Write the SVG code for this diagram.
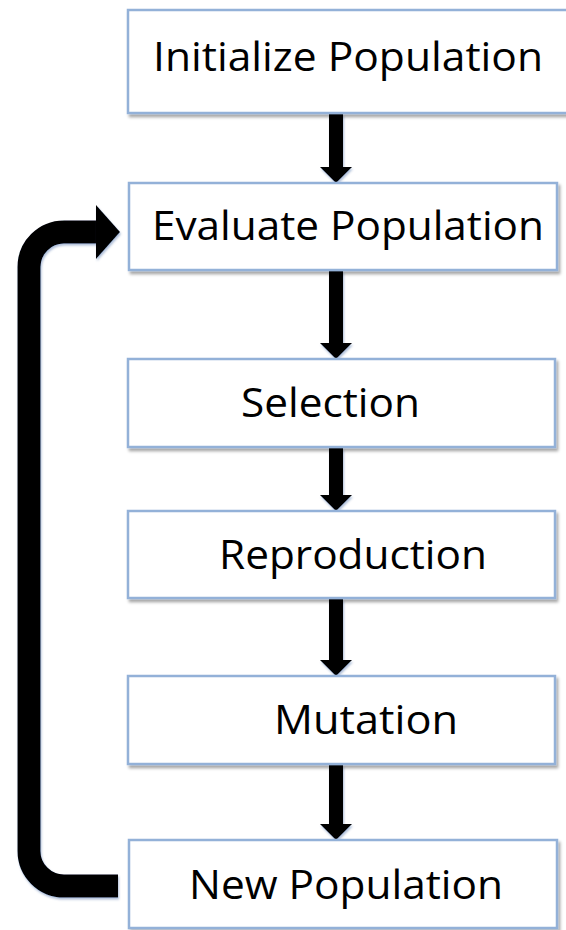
<svg xmlns="http://www.w3.org/2000/svg" width="566" height="930" viewBox="0 0 566 930">
<defs>
<filter id="sh" x="-10%" y="-10%" width="130%" height="140%">
<feDropShadow dx="2" dy="3" stdDeviation="1.6" flood-color="#000" flood-opacity="0.35"/>
</filter>
<filter id="ash" x="-20%" y="-10%" width="140%" height="130%">
<feDropShadow dx="1" dy="2" stdDeviation="1.2" flood-color="#4a70a8" flood-opacity="0.45"/>
</filter>
</defs>
<style>
.box{fill:#ffffff;stroke:#93b1d8;stroke-width:2.5;filter:url(#sh)}
.lbl{font-family:"Open Sans","Liberation Sans",sans-serif;font-size:40px;fill:#000}
.arr{fill:#000;filter:url(#ash)}
.loop{fill:none;stroke:#000;stroke-width:23;filter:url(#ash)}
</style>
<rect width="566" height="930" fill="#ffffff"/>
<g id="connectors">
<path class="arr" d="M329,114 H343 V167 H352 L336,183 L320,167 H329 Z"/>
<path class="arr" d="M329,271 H343 V343 H352 L336,359 L320,343 H329 Z"/>
<path class="arr" d="M329,448 H343 V495 H352 L336,511 L320,495 H329 Z"/>
<path class="arr" d="M329,599 H343 V660 H352 L336,676 L320,660 H329 Z"/>
<path class="arr" d="M329,765 H343 V824 H352 L336,840 L320,824 H329 Z"/>
<g id="loop-arrow">
<path class="loop" d="M118,886 H64 A35,35 0 0 1 29,851 V267 A35,35 0 0 1 64,232 H100"/>
<path class="arr" d="M96,205 L120,232 L96,259 Z"/>
</g>
</g>
<g id="n-init">
<rect class="box" x="128" y="10" width="445" height="103"/>
<text class="lbl" x="153" y="71" textLength="390" lengthAdjust="spacingAndGlyphs">Initialize Population</text>
</g>
<g id="n-eval">
<rect class="box" x="129" y="183" width="428" height="87"/>
<text class="lbl" x="152" y="240" textLength="392" lengthAdjust="spacingAndGlyphs">Evaluate Population</text>
</g>
<g id="n-sel">
<rect class="box" x="128" y="359" width="427" height="88"/>
<text class="lbl" x="241" y="417" textLength="179" lengthAdjust="spacingAndGlyphs">Selection</text>
</g>
<g id="n-rep">
<rect class="box" x="128" y="511" width="427" height="87"/>
<text class="lbl" x="219" y="569" textLength="268" lengthAdjust="spacingAndGlyphs">Reproduction</text>
</g>
<g id="n-mut">
<rect class="box" x="128" y="676" width="427" height="88"/>
<text class="lbl" x="274" y="734" textLength="184" lengthAdjust="spacingAndGlyphs">Mutation</text>
</g>
<g id="n-new">
<rect class="box" x="129" y="840" width="428" height="88"/>
<text class="lbl" x="189" y="899" textLength="314" lengthAdjust="spacingAndGlyphs">New Population</text>
</g>
</svg>
